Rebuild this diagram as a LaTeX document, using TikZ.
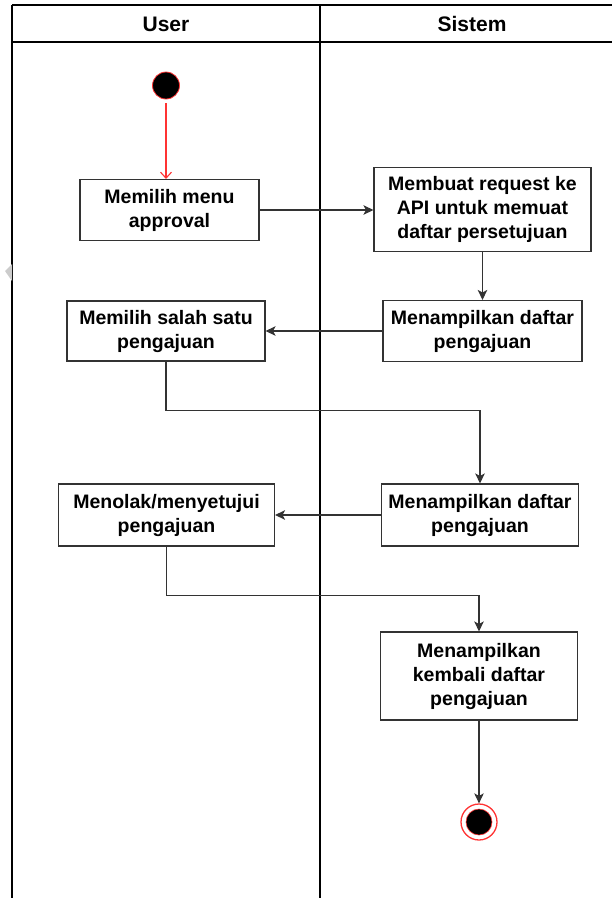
\documentclass[tikz,border=0pt]{standalone}
\usepackage{fontspec}
\setmainfont{Liberation Sans}
\usetikzlibrary{arrows.meta}

\definecolor{boxcol}{HTML}{333333}
\definecolor{startred}{HTML}{FF3333}
\definecolor{markgray}{HTML}{CCCCCC}

\begin{document}
\begin{tikzpicture}[x=1pt,y=-1pt,
  lane/.style={draw=black, line width=1.1pt},
  actbox/.style={draw=boxcol, line width=1.1pt, fill=white, align=center,
    inner sep=0pt, font=\bfseries\fontsize{19.5}{24}\selectfont},
  flow/.style={draw=boxcol, line width=1.1pt,
    -{Stealth[length=10pt,width=9.5pt,inset=2.5pt]}},
  redflow/.style={draw=startred, line width=1.1pt,
    -{Straight Barb[length=6pt,width=11pt]}},
  lanehead/.style={font=\bfseries\fontsize{21}{25}\selectfont, inner sep=0pt}
]
\useasboundingbox (0,0) rectangle (612,898);

% swimlanes
\draw[lane] (12,5) -- (612,5);
\draw[lane] (12,42) -- (612,42);
\draw[lane] (12,5) -- (12,898);
\draw[lane] (320,5) -- (320,898);
\node[lanehead] (huser) at (166,24) {User};
\node[lanehead] (hsys) at (472,24) {Sistem};

% small grey mark on the left edge
\fill[markgray] (5,271) -- (12,264) -- (12,281) -- cycle;

% start and end states
\node[circle, fill=black, draw=startred, line width=0.8pt, minimum size=27pt,
  inner sep=0pt] (start) at (166,85.5) {};
\node[circle, draw=startred, line width=1.3pt, fill=white, minimum size=36pt,
  inner sep=0pt] (end) at (479,822) {};
\node[circle, fill=black, draw=startred, line width=0.6pt, minimum size=26pt,
  inner sep=0pt] (endcore) at (end) {};

% activities
\node[actbox, minimum width=179pt, minimum height=61pt] (b1) at (169.5,210)
  {Memilih menu\\approval};
\node[actbox, minimum width=217pt, minimum height=84pt] (b2) at (482.5,209.5)
  {Membuat request ke\\API untuk memuat\\daftar persetujuan};
\node[actbox, minimum width=199pt, minimum height=61pt] (b3) at (482.5,331)
  {Menampilkan daftar\\pengajuan};
\node[actbox, minimum width=198pt, minimum height=60pt] (b4) at (166,331)
  {Memilih salah satu\\pengajuan};
\node[actbox, minimum width=197pt, minimum height=62pt] (b5) at (480,515)
  {Menampilkan daftar\\pengajuan};
\node[actbox, minimum width=216pt, minimum height=62pt] (b6) at (166.5,515)
  {Menolak/menyetujui\\pengajuan};
\node[actbox, minimum width=197pt, minimum height=88pt] (b7) at (479,676)
  {Menampilkan\\kembali daftar\\pengajuan};

% flows
\draw[redflow, shorten <=4pt] (start) -- (start |- b1.north);
\draw[flow] (b1.east) -- (b1.east -| b2.west);
\draw[flow] (b2.south) -- (b3.north);
\draw[flow] (b3.west) -- (b4.east);
\draw[flow] (b4.south) -- ++(0,49) -| (b5.north);
\draw[flow] (b5.west) -- (b6.east);
\draw[flow] (b6.south) -- ++(0,49) -| (b7.north);
\draw[flow] (b7.south) -- (end.north);
\end{tikzpicture}
\end{document}
